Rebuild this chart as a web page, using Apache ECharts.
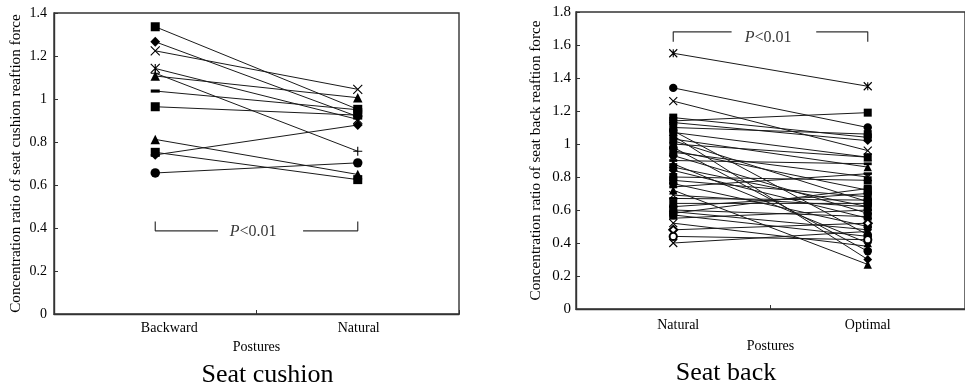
<!DOCTYPE html>
<html>
<head>
<meta charset="utf-8">
<script src="https://cdn.jsdelivr.net/npm/echarts@6/dist/echarts.min.js"></script>
<style>
  html, body { margin: 0; padding: 0; background: #fff; }
  #chart { width: 965px; height: 389px; }
</style>
</head>
<body>
<div id="chart"></div>
<script>
// ---- Seat cushion: concentration ratio per subject, Backward -> Natural ----
const cushionPostures = ['Backward', 'Natural'];
const cushionBackward = [1.336, 1.266, 1.224, 1.142, 1.107, 1.120, 1.037, 0.964, 0.812, 0.740, 0.752, 0.656];
const cushionNatural  = [0.952, 0.918, 1.045, 0.905, 1.006, 0.757, 0.950, 0.925, 0.649, 0.879, 0.625, 0.703];
const cushionMarkers  = ['rect', 'diamond', 'cross', 'asterisk', 'triangle', 'plus', 'dash', 'rect', 'triangle', 'diamond', 'rect', 'circle'];
const cushionTicks    = [0, 1.4, 0.2];

// ---- Seat back: concentration ratio per subject, Natural -> Optimal ----
const backPostures = ['Natural', 'Optimal'];
const backNatural = [1.55, 1.34, 1.26, 1.14, 1.16, 1.13, 1.10, 1.08, 1.07, 1.05, 1.03, 1.02, 1.00, 0.98, 0.96, 0.95, 0.93,
                     0.90, 0.88, 0.86, 0.84, 0.80, 0.78, 0.76, 0.74, 0.72, 0.69, 0.67, 0.64, 0.62, 0.60, 0.59, 0.58,
                     0.57, 0.55, 0.52, 0.48, 0.44, 0.40];
const backOptimal = [1.35, 1.10, 0.96, 1.19, 1.04, 1.02, 1.06, 0.45, 0.92, 0.30, 0.86, 0.65, 0.92, 0.35, 0.72, 0.80, 0.58,
                     0.88, 0.40, 0.62, 0.55, 0.78, 0.68, 0.50, 0.82, 0.27, 0.62, 0.66, 0.64, 0.70, 0.56, 0.48, 0.73,
                     0.44, 0.60, 0.38, 0.52, 0.42, 0.47];
const backMarkers = ['asterisk', 'circle', 'cross', 'rect', 'rect', 'diamond', 'rect', 'circle', 'rect', 'diamond', 'triangle', 'rect', 'triangle', 'circle', 'rect', 'asterisk', 'circle',
                     'dash', 'triangle', 'rect', 'diamond', 'rect', 'rect', 'circle', 'dash', 'triangle', 'cross', 'dash', 'rect', 'circle', 'rect', 'diamond', 'rect',
                     'circle', 'dash', 'cross', 'emptyDiamond', 'emptyCircle', 'cross'];
const backTicks = [0, 1.8, 0.2];

const SERIF = '"Liberation Serif", "DejaVu Serif", serif';
const INK = '#000';
const AXIS = '#333';

// marker glyphs
const GLYPHS = {
  rect:         { symbol: 'rect', stroke: false, scale: 1 },
  circle:       { symbol: 'circle', stroke: false, scale: 1.05 },
  diamond:      { symbol: 'diamond', stroke: false, scale: 1.1 },
  triangle:     { symbol: 'triangle', stroke: false, scale: 1.05 },
  emptyCircle:  { symbol: 'emptyCircle', stroke: true, scale: 0.9 },
  emptyDiamond: { symbol: 'emptyDiamond', stroke: true, scale: 1 },
  cross:        { symbol: 'path://M0,0L10,10M10,0L0,10', stroke: true, scale: 1 },
  asterisk:     { symbol: 'path://M0,0L10,10M10,0L0,10M5,0L5,10', stroke: true, scale: 1 },
  plus:         { symbol: 'path://M5,0L5,10M0,5L10,5', stroke: true, scale: 1 },
  dash:         { symbol: 'path://M0,0L10,0L10,3L0,3Z', stroke: false, scale: 1, flat: true }
};

function subjectLine(valueAxis, yAxis, a, b, mark, size) {
  const g = GLYPHS[mark];
  const s = size * g.scale;
  return {
    type: 'line',
    xAxisIndex: valueAxis,
    yAxisIndex: yAxis,
    data: [[0, a], [1, b]],
    symbol: g.symbol,
    symbolSize: g.flat ? [s, s * 0.35] : s,
    showSymbol: true,
    silent: true,
    animation: false,
    lineStyle: { color: '#1a1a1a', width: 1 },
    itemStyle: { color: INK, borderColor: INK, borderWidth: g.stroke ? 1.1 : 0 },
    z: 3
  };
}

function bracket(valueAxis, yAxis, yLine, yEnd, gapFrom, gapTo) {
  const style = { type: 'line', xAxisIndex: valueAxis, yAxisIndex: yAxis, symbol: 'none',
                  silent: true, animation: false, lineStyle: { color: AXIS, width: 1.2 }, z: 2 };
  return [
    Object.assign({}, style, { data: [[0, yEnd], [0, yLine], [gapFrom, yLine]] }),
    Object.assign({}, style, { data: [[gapTo, yLine], [1, yLine], [1, yEnd]] })
  ];
}

function pLabel(valueAxis, yAxis, x, y) {
  return {
    type: 'scatter', xAxisIndex: valueAxis, yAxisIndex: yAxis,
    data: [[x, y]], symbol: 'circle', symbolSize: 0.1,
    itemStyle: { color: 'rgba(0,0,0,0)' }, silent: true, animation: false,
    label: {
      show: true, position: 'inside', formatter: '{i|P}<0.01',
      fontFamily: SERIF, fontSize: 16, color: INK,
      rich: { i: { fontStyle: 'italic', fontFamily: SERIF, fontSize: 16, color: INK } }
    }
  };
}

function valueY(grid, ticks, name, labelMargin, nameGap, labelSize) {
  return {
    type: 'value', gridIndex: grid, min: ticks[0], max: ticks[1], interval: ticks[2],
    axisLine: { show: true, onZero: false, lineStyle: { color: AXIS, width: 1.4 } },
    axisTick: { show: true, inside: true, length: 4, lineStyle: { color: AXIS, width: 1 } },
    axisLabel: { fontFamily: SERIF, fontSize: labelSize, color: INK, margin: labelMargin },
    splitLine: { show: false },
    name: name, nameLocation: 'middle', nameGap: nameGap,
    nameTextStyle: { fontFamily: SERIF, fontSize: 15.2, color: INK }
  };
}

function categoryX(grid, cats, labelMargin, nameGap, shifts) {
  const rich = {};
  cats.forEach((c, i) => {
    rich['c' + i] = { fontFamily: SERIF, fontSize: 14, color: INK, padding: [0, 0, 0, shifts[i]] };
  });
  return {
    type: 'category', gridIndex: grid, data: cats, boundaryGap: true,
    axisLine: { show: true, onZero: false, lineStyle: { color: AXIS, width: 1.4 } },
    axisTick: { show: true, inside: true, length: 4, lineStyle: { color: AXIS, width: 1 } },
    axisLabel: { margin: labelMargin, formatter: (v, i) => '{c' + i + '|' + v + '}', rich: rich },
    name: 'Postures', nameLocation: 'middle', nameGap: nameGap,
    nameTextStyle: { fontFamily: SERIF, fontSize: 14, color: INK }
  };
}

function hiddenX(grid) {
  return { type: 'value', gridIndex: grid, min: -0.5, max: 1.5, show: false,
           axisLine: { onZero: false } };
}

const series = [];
cushionBackward.forEach((v, i) => series.push(subjectLine(2, 0, v, cushionNatural[i], cushionMarkers[i], 9)));
backNatural.forEach((v, i) => series.push(subjectLine(3, 1, v, backOptimal[i], backMarkers[i], 8)));
series.push(...bracket(2, 0, 0.387, 0.43, 0.31, 0.73));
series.push(...bracket(3, 1, 1.68, 1.62, 0.30, 0.735));
series.push(pLabel(2, 0, 0.483, 0.383));
series.push(pLabel(3, 1, 0.488, 1.644));

const chart = echarts.init(document.getElementById('chart'), null, { renderer: 'canvas' });
chart.setOption({
  animation: false,
  backgroundColor: '#fff',
  grid: [
    { left: 54, top: 13, width: 405, height: 301, show: true, borderColor: AXIS, borderWidth: 1.4, backgroundColor: 'transparent' },
    { left: 576, top: 12, width: 398, height: 297, show: true, borderColor: AXIS, borderWidth: 1.4, backgroundColor: 'transparent' }
  ],
  xAxis: [
    categoryX(0, cushionPostures, 7, 26, [28, 2]),
    categoryX(1, backPostures, 9, 30, [10, 0]),
    hiddenX(0),
    hiddenX(1)
  ],
  yAxis: [
    valueY(0, cushionTicks, 'Concentration ratio of seat cushion reaftion force', 7, 30, 14),
    valueY(1, backTicks, 'Concentration ratio of seat back reaftion force', 5, 32, 15)
  ],
  graphic: [
    { type: 'text', x: 267.5, y: 375, style: { text: 'Seat cushion', fontFamily: SERIF, fontSize: 26, fill: INK, align: 'center', verticalAlign: 'middle' } },
    { type: 'text', x: 726, y: 373, style: { text: 'Seat back', fontFamily: SERIF, fontSize: 26, fill: INK, align: 'center', verticalAlign: 'middle' } }
  ],
  series: series
});
</script>
</body>
</html>
